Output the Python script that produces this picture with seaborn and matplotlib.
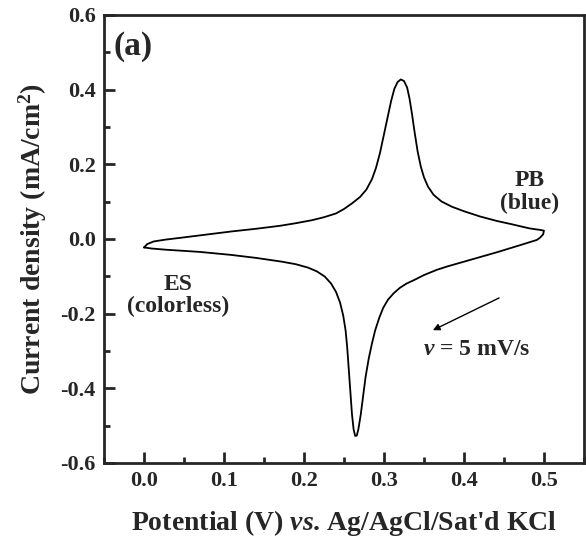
import pandas as pd
import matplotlib
matplotlib.use('Agg')
import matplotlib.pyplot as plt
from matplotlib.ticker import MultipleLocator, FormatStrFormatter
import seaborn as sns

# anodic scan (ES -> PB)
fwd_potential = [0.000, 0.004, 0.012, 0.027, 0.050, 0.080, 0.110, 0.140, 0.170, 0.190,
                 0.210, 0.225, 0.240, 0.250, 0.260, 0.270, 0.278, 0.285, 0.290, 0.295,
                 0.300, 0.305, 0.309, 0.313, 0.317, 0.321, 0.325, 0.329, 0.332, 0.335,
                 0.338, 0.342, 0.346, 0.350, 0.355, 0.362, 0.372, 0.385, 0.400, 0.420,
                 0.441, 0.460, 0.482, 0.495, 0.500]
fwd_current = [-0.023, -0.014, -0.007, -0.002, 0.004, 0.012, 0.020, 0.027, 0.035, 0.042,
               0.050, 0.058, 0.068, 0.080, 0.095, 0.112, 0.132, 0.160, 0.190, 0.230,
               0.280, 0.330, 0.370, 0.402, 0.420, 0.427, 0.423, 0.405, 0.375, 0.335,
               0.290, 0.235, 0.194, 0.165, 0.140, 0.118, 0.100, 0.086, 0.074, 0.060,
               0.048, 0.039, 0.028, 0.024, 0.022]

# cathodic scan (PB -> ES)
rev_potential = [0.500, 0.499, 0.495, 0.491, 0.470, 0.441, 0.410, 0.379, 0.366, 0.350,
                 0.338, 0.328, 0.320, 0.312, 0.305, 0.299, 0.294, 0.289, 0.285, 0.281,
                 0.277, 0.274, 0.271, 0.268, 0.266, 0.264, 0.262, 0.260, 0.258, 0.256,
                 0.254, 0.252, 0.249, 0.245, 0.240, 0.234, 0.226, 0.216, 0.205, 0.190,
                 0.172, 0.140, 0.109, 0.070, 0.027, 0.010, 0.000]
rev_current = [0.022, 0.012, 0.003, -0.003, -0.017, -0.036, -0.055, -0.074, -0.083, -0.097,
               -0.110, -0.120, -0.131, -0.146, -0.163, -0.185, -0.212, -0.245, -0.280, -0.320,
               -0.370, -0.420, -0.470, -0.510, -0.527, -0.528, -0.510, -0.470, -0.410, -0.350,
               -0.290, -0.245, -0.205, -0.170, -0.142, -0.120, -0.101, -0.087, -0.077, -0.068,
               -0.061, -0.051, -0.043, -0.035, -0.029, -0.026, -0.023]

df = pd.DataFrame({
    'Potential': fwd_potential + rev_potential,
    'Current': fwd_current + rev_current,
})

sns.set_style('ticks')
plt.rcParams['font.family'] = ['Liberation Serif', 'DejaVu Serif']
plt.rcParams['font.weight'] = 'bold'
plt.rcParams['axes.labelweight'] = 'bold'
plt.rcParams['mathtext.fontset'] = 'custom'
plt.rcParams['mathtext.rm'] = 'Liberation Serif:bold'
plt.rcParams['mathtext.bf'] = 'Liberation Serif:bold'
plt.rcParams['mathtext.it'] = 'Liberation Serif:italic:bold'

fig = plt.figure(figsize=(5.86, 5.51), dpi=100)
ax = fig.add_axes([0.1775, 0.160, 0.819, 0.813])

sns.lineplot(data=df, x='Potential', y='Current', sort=False, estimator=None,
             color='black', linewidth=1.3, ax=ax)

ax.set_xlim(-0.05, 0.55)
ax.set_ylim(-0.6, 0.6)
ax.xaxis.set_major_locator(MultipleLocator(0.1))
ax.xaxis.set_minor_locator(MultipleLocator(0.05))
ax.yaxis.set_major_locator(MultipleLocator(0.2))
ax.yaxis.set_minor_locator(MultipleLocator(0.1))
ax.tick_params(which='both', direction='in', width=2, labelsize=16, top=False, right=False)
ax.tick_params(which='major', length=8, pad=6)
ax.tick_params(which='minor', length=4)
ax.xaxis.set_major_formatter(FormatStrFormatter('%.1f'))
ax.yaxis.set_major_formatter(FormatStrFormatter('%.1f'))
for s in ax.spines.values():
    s.set_linewidth(2)

ax.set_xlabel(r"Potential (V) $\mathit{vs}$. Ag/AgCl/Sat'd KCl", fontsize=20, labelpad=12)
ax.set_ylabel(r"Current density (mA/cm$^2$)", fontsize=20, labelpad=8)

ax.text(-0.038, 0.515, '(a)', fontsize=24, fontweight='bold', ha='left', va='center')
ax.text(0.482, 0.126, 'PB\n(blue)', fontsize=17, fontweight='bold', ha='center', va='center',
        linespacing=1.1)
ax.text(0.043, -0.152, 'ES\n(colorless)', fontsize=17, fontweight='bold', ha='center', va='center',
        linespacing=1.1)
ax.text(0.416, -0.297, r'$\mathit{v}$ = 5 mV/s', fontsize=17, fontweight='bold',
        ha='center', va='center')
ax.annotate('', xy=(0.358, -0.248), xytext=(0.447, -0.155),
            arrowprops=dict(arrowstyle='-|>', color='black', lw=1, mutation_scale=10))

plt.savefig('out.png', dpi=100)
